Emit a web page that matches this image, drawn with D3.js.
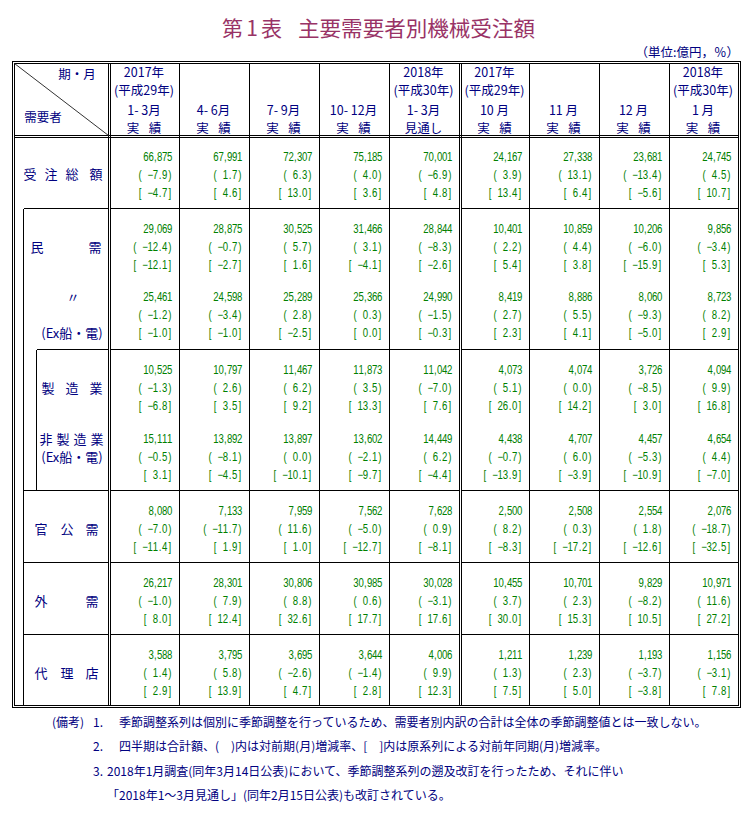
<!DOCTYPE html>
<html><head><meta charset="utf-8">
<script src="https://cdn.jsdelivr.net/npm/d3@7"></script>
<style>
html,body{margin:0;padding:0;background:#fff;}
svg{display:block;}
</style>
</head><body>
<svg id="chart" width="753" height="820"></svg>
<script>
// ---------- DATA ----------
const headerYear   = ["2017年","","","","2018年","2017年","","","2018年"];
const headerEra    = ["(平成29年)","","","","(平成30年)","(平成29年)","","","(平成30年)"];
const headerPeriod = ["1- 3月","4- 6月","7- 9月","10- 12月","1- 3月","10 月","11 月","12 月","1 月"];
const headerKind   = ["実 績","実 績","実 績","実 績","見通し","実 績","実 績","実 績","実 績"];

const rowNames = ["受注総額","民需","民需(Ex船・電)","製造業","非製造業(Ex船・電)","官公需","外需","代理店"];

const totalValues = [66875,67991,72307,75185,70001,24167,27338,23681,24745];
const totalMoM    = [-7.9,1.7,6.3,4.0,-6.9,3.9,13.1,-13.4,4.5];
const totalYoY    = [-4.7,4.6,13.0,3.6,4.8,13.4,6.4,-5.6,10.7];

const privValues  = [29069,28875,30525,31466,28844,10401,10859,10206,9856];
const privMoM     = [-12.4,-0.7,5.7,3.1,-8.3,2.2,4.4,-6.0,-3.4];
const privYoY     = [-12.1,-2.7,1.6,-4.1,-2.6,5.4,3.8,-15.9,5.3];

const privExValues= [25461,24598,25289,25366,24990,8419,8886,8060,8723];
const privExMoM   = [-1.2,-3.4,2.8,0.3,-1.5,2.7,5.5,-9.3,8.2];
const privExYoY   = [-1.0,-1.0,-2.5,0.0,-0.3,2.3,4.1,-5.0,2.9];

const mfgValues   = [10525,10797,11467,11873,11042,4073,4074,3726,4094];
const mfgMoM      = [-1.3,2.6,6.2,3.5,-7.0,5.1,0.0,-8.5,9.9];
const mfgYoY      = [-6.8,3.5,9.2,13.3,7.6,26.0,14.2,3.0,16.8];

const nonMfgValues= [15111,13892,13897,13602,14449,4438,4707,4457,4654];
const nonMfgMoM   = [-0.5,-8.1,0.0,-2.1,6.2,-0.7,6.0,-5.3,4.4];
const nonMfgYoY   = [3.1,-4.5,-10.1,-9.7,-4.4,-13.9,-3.9,-10.9,-7.0];

const govValues   = [8080,7133,7959,7562,7628,2500,2508,2554,2076];
const govMoM      = [-7.0,-11.7,11.6,-5.0,0.9,8.2,0.3,1.8,-18.7];
const govYoY      = [-11.4,1.9,1.0,-12.7,-8.1,-8.3,-17.2,-12.6,-32.5];

const extValues   = [26217,28301,30806,30985,30028,10455,10701,9829,10971];
const extMoM      = [-1.0,7.9,8.8,0.6,-3.1,3.7,2.3,-8.2,11.6];
const extYoY      = [8.0,12.4,32.6,17.7,17.6,30.0,15.3,10.5,27.2];

const agentValues = [3588,3795,3695,3644,4006,1211,1239,1193,1156];
const agentMoM    = [1.4,5.8,-2.6,-1.4,9.9,1.3,2.3,-3.7,-3.1];
const agentYoY    = [2.9,13.9,4.7,2.8,12.3,7.5,5.0,-3.8,7.8];

const titleHead = "第1表";
const titleBody = "主要需要者別機械受注額";
const unitText  = "（単位:億円，％）";
const notes = [
  ["(備考)","1.","季節調整系列は個別に季節調整を行っているため、需要者別内訳の合計は全体の季節調整値とは一致しない。"],
  ["","2.","四半期は合計額、(　)内は対前期(月)増減率、[　]内は原系列による対前年同期(月)増減率。"],
  ["","3.","2018年1月調査(同年3月14日公表)において、季節調整系列の遡及改訂を行ったため、それに伴い"],
  ["","","「2018年1～3月見通し」(同年2月15日公表)も改訂されている。"]
];

// ---------- LAYOUT ----------
const svg = d3.select("#chart");
const NAVY = "#000080", GREEN = "#008000", TITLE = "#993366";
const CJK = "'Noto Sans CJK JP','Noto Sans CJK SC',sans-serif";
const NUM = "'Liberation Sans',Arial,sans-serif";

const colIdx = d3.range(9);
const colRightEdge = d3.scaleOrdinal().domain(colIdx).range([179,249,319,389,459,529,599,669,738]);
const colLeftEdge  = d3.scaleOrdinal().domain(colIdx).range([110,179,249,319,389,461,529,599,669]);
const rowTop = d3.scaleOrdinal().domain(rowNames).range([136,208,276,349,418,490,562,634]);
const lineOff = d3.scaleOrdinal().domain([0,1,2]).range([21,39,57]);

const rows = [
  [totalValues,totalMoM,totalYoY],
  [privValues,privMoM,privYoY],
  [privExValues,privExMoM,privExYoY],
  [mfgValues,mfgMoM,mfgYoY],
  [nonMfgValues,nonMfgMoM,nonMfgYoY],
  [govValues,govMoM,govYoY],
  [extValues,extMoM,extYoY],
  [agentValues,agentMoM,agentYoY]
];

// Title
svg.append("text").attr("x",222).attr("y",36).attr("textLength",60).attr("lengthAdjust","spacing")
  .attr("font-family",CJK).attr("font-size",21).attr("fill",TITLE).text(titleHead);
svg.append("text").attr("x",298).attr("y",36).attr("textLength",237).attr("lengthAdjust","spacingAndGlyphs")
  .attr("font-family",CJK).attr("font-size",21).attr("fill",TITLE).text(titleBody);
svg.append("text").attr("x",739).attr("y",57).attr("text-anchor","end")
  .attr("font-family",CJK).attr("font-size",12.5).attr("fill",NAVY).text(unitText);

// ---------- LINES ----------
const L = svg.append("g").attr("stroke","#000").attr("stroke-width",1).attr("shape-rendering","crispEdges").attr("fill","none");
function line(x1,y1,x2,y2){ L.append("line").attr("x1",x1+0.5).attr("y1",y1+0.5).attr("x2",x2+0.5).attr("y2",y2+0.5); }
L.append("rect").attr("x",12.5).attr("y",61.5).attr("width",728).attr("height",646);
L.append("rect").attr("x",14.5).attr("y",63.5).attr("width",724).attr("height",642);
[108,110,459,461].forEach(x=>line(x,63,x,705));
[135,137].forEach(y=>line(14,y,738,y));
colIdx.forEach(i=>{ const x=colRightEdge(i); if(x!==459 && x!==738) line(x,63,x,705); });
[208,349,490,562,634].forEach(y=>{ line(110,y,459,y); line(461,y,738,y); });
line(23,208,23,705);
line(23,208,108,208);
line(36,349,36,490);
line(36,349,108,349);
[490,562,634].forEach(y=>line(23,y,108,y));
svg.append("line").attr("x1",14.5).attr("y1",63.5).attr("x2",108.5).attr("y2",135.5)
  .attr("stroke","#333").attr("stroke-width",1);

// ---------- HEADER TEXT ----------
const hdr = svg.append("g").attr("font-family",CJK).attr("font-size",12.5).attr("fill",NAVY).attr("text-anchor","middle");
const colCenter = i => (colLeftEdge(i)+colRightEdge(i))/2 - 0.5;
[[headerYear,77],[headerEra,95],[headerPeriod,115]].forEach(([arr,y])=>{
  hdr.selectAll(null).data(colIdx).enter().append("text")
    .attr("x",colCenter).attr("y",y).attr("xml:space","preserve").style("white-space","pre")
    .text(i=>arr[i]);
});
colIdx.forEach(i=>{
  const parts = headerKind[i].split(" ");
  if(parts.length===2){
    hdr.append("text").attr("x",colCenter(i)-11).attr("y",132.5).text(parts[0]);
    hdr.append("text").attr("x",colCenter(i)+11).attr("y",132.5).text(parts[1]);
  } else {
    hdr.append("text").attr("x",colCenter(i)).attr("y",132.5).text(headerKind[i]);
  }
});
hdr.append("text").attr("x",77).attr("y",79).text("期・月");
hdr.append("text").attr("x",43).attr("y",122).text("需要者");

// ---------- DATA TEXT (fixed-pitch grid, like the original) ----------
const fmtV = d3.format(",");
const fmtP = v => (v<0?"\u2212":"")+Math.abs(v).toFixed(1);
const SX = 0.8;
const pitch = c => c==="," ? 3.4 : (c==="." ? 4.2 : 5.1);
const dataG = svg.append("g").attr("font-family",NUM).attr("font-size",12).attr("fill",GREEN);
rows.forEach((r,ri)=>{
  const top = rowTop(rowNames[ri]);
  colIdx.forEach(ci=>{
    const xr = colRightEdge(ci)-6.7;
    const strs = [fmtV(r[0][ci]), "( "+fmtP(r[1][ci])+")", "[ "+fmtP(r[2][ci])+"]"];
    strs.forEach((s,li)=>{
      const chars = Array.from(s);
      const xs = new Array(chars.length);
      let acc = 0;
      for(let k=chars.length-1;k>=0;k--){
        const w = pitch(chars[k]);
        xs[k] = (-(acc + w/2))/SX;
        acc += w;
      }
      dataG.append("g").attr("transform",`translate(${xr},${top+lineOff(li)+4.3}) scale(${SX},1)`)
        .append("text").attr("text-anchor","middle").attr("x",xs.join(" ")).text(s.replace(/ /g,"\u00a0"));
    });
  });
});

// ---------- ROW LABELS ----------
const lab = svg.append("g").attr("font-family",CJK).attr("font-size",13).attr("fill",NAVY).attr("text-anchor","middle");
const labelSpec = [
  {chars:["受","注","総","額"], xs:[30,51,72,96], y:174},
  {chars:["民","需"], xs:[37,95], y:247},
  {chars:["〃"], xs:[73], y:297},
  {chars:["(Ex船・電)"], xs:[72], y:333},
  {chars:["製","造","業"], xs:[48,72,96], y:388},
  {chars:["非","製","造","業"], xs:[46,63,80,97], y:439},
  {chars:["(Ex船・電)"], xs:[72], y:457},
  {chars:["官","公","需"], xs:[41,67,92], y:529},
  {chars:["外","需"], xs:[41,92], y:601},
  {chars:["代","理","店"], xs:[41,67,92], y:673}
];
labelSpec.forEach(s=>{
  s.chars.forEach((c,i)=>{
    lab.append("text").attr("x",s.xs[i]).attr("y",s.y+5).text(c);
  });
});

// ---------- NOTES ----------
const nt = svg.append("g").attr("font-family",CJK).attr("font-size",12).attr("fill",NAVY);
const noteY = [722,746,771,795];
notes.forEach((n,i)=>{
  const y = noteY[i]+4.5;
  if(n[0]) nt.append("text").attr("x",52).attr("y",y).text(n[0]);
  if(n[1]) nt.append("text").attr("x",93).attr("y",y).text(n[1]);
  nt.append("text").attr("x", i<2?119:107).attr("y",y).attr("xml:space","preserve").style("white-space","pre").text(n[2]);
});
</script>
</body></html>
